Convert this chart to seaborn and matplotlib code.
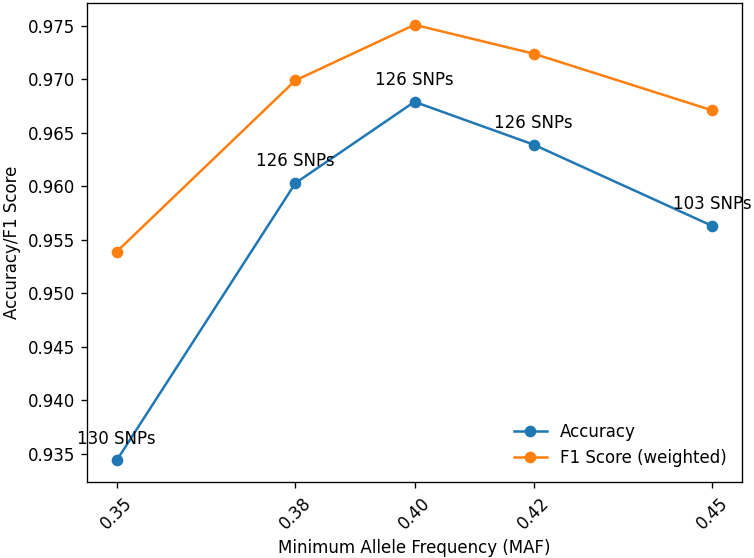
import seaborn as sns
import pandas as pd
import numpy as np
import matplotlib.pyplot as plt

maf = [0.35, 0.38, 0.40, 0.42, 0.45]
accuracy = [0.9344, 0.9603, 0.9679, 0.9639, 0.9563]
f1_weighted = [0.9539, 0.9699, 0.9751, 0.9724, 0.9671]
n_snps = [130, 126, 126, 126, 103]

plt.rcParams['font.family'] = ['DejaVu Sans']

df = pd.DataFrame({'maf': maf, 'Accuracy': accuracy, 'F1 Score (weighted)': f1_weighted})
long = df.melt(id_vars='maf', var_name='metric', value_name='score')

fig, ax = plt.subplots(figsize=(754 / 120, 558 / 120), dpi=120)
sns.lineplot(data=long, x='maf', y='score', hue='metric', marker='o',
             markersize=7, markeredgewidth=0, linewidth=1.5,
             palette=['#1f77b4', '#ff7f0e'], ax=ax)

for x, y, n in zip(maf, accuracy, n_snps):
    ax.annotate(f'{n} SNPs', (x, y), textcoords='offset points', xytext=(0, 10),
                ha='center', fontsize=10)

ax.set_xticks(maf)
ax.set_xticklabels([f'{m:.2f}' for m in maf], rotation=45)
ax.set_xlabel('Minimum Allele Frequency (MAF)')
ax.set_ylabel('Accuracy/F1 Score')
ax.legend(loc='lower right', frameon=False, title=None)

fig.subplots_adjust(left=87 / 754, right=742 / 754, top=1 - 3 / 558, bottom=1 - 482 / 558)
plt.savefig('out.png', dpi=120)
